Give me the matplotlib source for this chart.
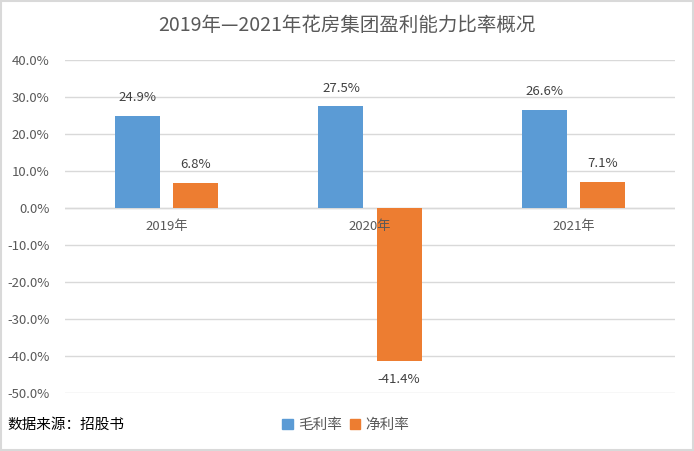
import numpy as np
import matplotlib
matplotlib.use('Agg')
import matplotlib.pyplot as plt
from matplotlib.patches import Rectangle

plt.rcParams['font.family'] = ['Noto Sans CJK SC', 'DejaVu Sans']

years = ['2019年', '2020年', '2021年']
gross_margin = [24.9, 27.5, 26.6]
net_margin = [6.8, -41.4, 7.1]
yticks = [40, 30, 20, 10, 0, -10, -20, -30, -40, -50]

blue = '#5B9BD5'
orange = '#ED7D31'
grey_text = '#595959'

fig = plt.figure(figsize=(6.94, 4.51), dpi=100)
ax = fig.add_axes([65/694, 1 - 393.3/451, 610/694, 333.3/451])

x = np.arange(len(years))
w = 0.222
off = 0.143
ax.bar(x - off, gross_margin, w, color=blue, zorder=3)
ax.bar(x + off, net_margin, w, color=orange, zorder=3)

for xi, v in zip(x - off, gross_margin):
    ax.annotate(f'{v:.1f}%', (xi, v), xytext=(0, 13), textcoords='offset points',
                ha='center', va='center', fontsize=9.5, color='#404040')
for xi, v in zip(x + off, net_margin):
    dy = 13 if v >= 0 else -13
    ax.annotate(f'{v:.1f}%', (xi, v), xytext=(0, dy), textcoords='offset points',
                ha='center', va='center', fontsize=9.5, color='#404040')

# category labels sit at the zero line
for xi, lab in zip(x, years):
    ax.annotate(lab, (xi, 0), xytext=(0, -13), textcoords='offset points',
                ha='center', va='center', fontsize=9.5, color=grey_text)

ax.set_xlim(-0.5, 2.5)
ax.set_ylim(-50, 40)
ax.set_yticks(yticks)
ax.set_yticklabels([f'{t:.1f}%' for t in yticks], fontsize=9.5, color=grey_text)
ax.set_xticks([])
ax.tick_params(axis='y', length=0, pad=11)
ax.grid(axis='y', color='#D9D9D9', linewidth=1, zorder=0)
ax.axhline(0, color='#D9D9D9', linewidth=1, zorder=2)
for s in ax.spines.values():
    s.set_visible(False)

fig.text(0.5, 1 - 25/451, '2019年—2021年花房集团盈利能力比率概况',
         ha='center', va='center', fontsize=14, color=grey_text)
fig.text(7/694, 1 - 425/451, '数据来源：招股书', ha='left', va='center',
         fontsize=10.5, color='black')

handles = [Rectangle((0, 0), 1, 1, color=blue), Rectangle((0, 0), 1, 1, color=orange)]
fig.legend(handles, ['毛利率', '净利率'], loc='center', bbox_to_anchor=(346/694, 1 - 425/451),
           ncol=2, frameon=False, fontsize=10.5, handlelength=0.7, handleheight=0.7,
           handletextpad=0.4, columnspacing=0.5, labelcolor=grey_text)

fig.patches.append(Rectangle((0.0015, 0.002), 0.997, 0.996, transform=fig.transFigure,
                             fill=False, edgecolor='#D9D9D9', linewidth=1.5))

fig.savefig('out.png', dpi=100)
